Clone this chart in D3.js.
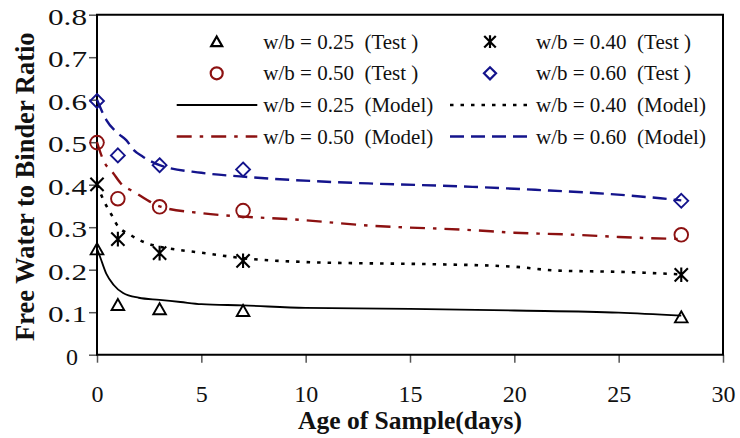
<!DOCTYPE html>
<html>
<head>
<meta charset="utf-8">
<script src="https://cdn.jsdelivr.net/npm/d3@7/dist/d3.min.js"></script>
<style>
  html, body { margin: 0; padding: 0; background: #fff; }
  svg { display: block; }
  text { font-family: "Liberation Serif", "Times New Roman", serif; }
</style>
</head>
<body>
<script>
// ---------- data ----------
const testDays = [0, 1, 3, 7, 28];
const test025 = [0.248, 0.117, 0.107, 0.103, 0.088];
const test040 = [0.401, 0.272, 0.239, 0.221, 0.188];
const test050 = [0.499, 0.367, 0.348, 0.339, 0.282];
const test060 = [0.597, 0.469, 0.446, 0.436, 0.362];

const model025Days = [0, 0.15, 0.45, 0.8, 1.25, 2, 3, 4, 5, 7, 10, 15, 20, 25, 28];
const model025 = [0.25, 0.23, 0.19, 0.164, 0.145, 0.134, 0.129, 0.124, 0.119, 0.116, 0.11, 0.108, 0.104, 0.099, 0.092];
const model040Days = [0, 0.35, 0.7, 0.95, 1.6, 2.4, 3, 4, 5, 7, 10, 13, 16, 20, 22, 25, 28];
const model040 = [0.40, 0.36, 0.329, 0.306, 0.282, 0.262, 0.254, 0.246, 0.24, 0.227, 0.218, 0.215, 0.213, 0.207, 0.198, 0.195, 0.189];
const model050Days = [0, 0.3, 0.78, 1.2, 1.75, 2.4, 3, 5, 7, 9.5, 13, 18, 20, 23, 25, 28];
const model050 = [0.5, 0.458, 0.427, 0.4, 0.384, 0.364, 0.349, 0.333, 0.325, 0.318, 0.304, 0.293, 0.287, 0.282, 0.277, 0.272];
const model060Days = [0, 0.45, 1, 1.4, 1.75, 2.2, 3, 5, 7, 11, 13, 18, 21, 24, 27, 28];
const model060 = [0.6, 0.552, 0.521, 0.505, 0.482, 0.466, 0.446, 0.428, 0.419, 0.407, 0.403, 0.395, 0.388, 0.38, 0.368, 0.363];

const xTicks = [0, 5, 10, 15, 20, 25, 30];
const yTicks = [0, 0.1, 0.2, 0.3, 0.4, 0.5, 0.6, 0.7, 0.8];
const yTickLabels = ["0", "0.1", "0.2", "0.3", "0.4", "0.5", "0.6", "0.7", "0.8"];

const testLabels = ["w/b = 0.25  (Test )", "w/b = 0.40  (Test )", "w/b = 0.50  (Test )", "w/b = 0.60  (Test )"];
const modelLabels = ["w/b = 0.25  (Model)", "w/b = 0.40  (Model)", "w/b = 0.50  (Model)", "w/b = 0.60  (Model)"];
const xTitle = "Age of Sample(days)";
const yTitle = "Free Water to Binder Ratio";

// ---------- styles ----------
const RED = "#8c1111", NAVY = "#14148c", BLACK = "#000";
const series = [
  { test: test025, mDays: model025Days, model: model025, color: BLACK, marker: "triangle", dash: null, width: 1.8 },
  { test: test040, mDays: model040Days, model: model040, color: BLACK, marker: "asterisk", dash: "3.5,7", width: 2.6 },
  { test: test050, mDays: model050Days, model: model050, color: RED, marker: "circle", dash: "15,8,3.5,8", width: 2.4 },
  { test: test060, mDays: model060Days, model: model060, color: NAVY, marker: "diamond", dash: "14,7", width: 2.4 }
];

const W = 740, H = 438;
const L = 97, R = 723, T = 14.7, B = 354.7;

const svg = d3.select("body").append("svg").attr("width", W).attr("height", H);

const x = d3.scaleLinear().domain([0, 30]).range([L, R]);
const y = d3.scaleLinear().domain([0, 0.8]).range([B, T]);

// markers
function markerPath(type, s) {
  const p = d3.path();
  if (type === "triangle") {
    p.moveTo(0, -s * 0.95); p.lineTo(s, s * 0.8); p.lineTo(-s, s * 0.8); p.closePath();
  } else if (type === "diamond") {
    p.moveTo(0, -s * 1.1); p.lineTo(s * 1.1, 0); p.lineTo(0, s * 1.1); p.lineTo(-s * 1.1, 0); p.closePath();
  } else if (type === "asterisk") {
    const a = s * 1.05;
    p.moveTo(-a, -a); p.lineTo(a, a);
    p.moveTo(a, -a); p.lineTo(-a, a);
    p.moveTo(0, -a * 1.1); p.lineTo(0, a * 1.1);
  } else if (type === "circle") {
    p.arc(0, 0, s, 0, 2 * Math.PI);
  }
  return p.toString();
}

// ---------- axes ----------
const xAxis = svg.append("g").attr("transform", `translate(0,${B})`)
  .call(d3.axisBottom(x).tickValues(xTicks).tickSize(8).tickFormat(d3.format("d")));
xAxis.select(".domain").remove();
xAxis.selectAll(".tick line").attr("stroke", "#555").attr("stroke-width", 1.5);
xAxis.selectAll(".tick text").attr("y", 47).attr("dy", null)
  .attr("font-size", 24).attr("fill", "#111")
  .style("font-family", "'Liberation Serif', 'Times New Roman', serif");

const yAxis = svg.append("g").attr("transform", `translate(${L},0)`)
  .call(d3.axisLeft(y).tickValues(yTicks).tickSize(8).tickFormat((d, i) => yTickLabels[i]));
yAxis.select(".domain").remove();
yAxis.selectAll(".tick line").attr("stroke", "#555").attr("stroke-width", 1.5);
yAxis.selectAll(".tick text")
  .attr("x", d => d === 0 ? -19 : -10).attr("dy", "0.4em")
  .attr("font-size", 24).attr("fill", "#111")
  .style("font-family", "'Liberation Serif', 'Times New Roman', serif")
  .each(function (d) { if (d !== 0) d3.select(this).attr("textLength", 39).attr("lengthAdjust", "spacingAndGlyphs"); });

// frame
svg.append("path")
  .attr("d", `M${L},${B}L${L},${T}L${R},${T}L${R},${B}Z`)
  .attr("fill", "none").attr("stroke", "#000").attr("stroke-width", 2);

// ---------- model lines ----------
const line = d3.line().x(d => x(d[0])).y(d => y(d[1])).curve(d3.curveMonotoneX);
series.forEach(s => {
  const pts = s.mDays.map((d, i) => [d, s.model[i]]);
  svg.append("path").datum(pts)
    .attr("d", line)
    .attr("fill", "none")
    .attr("stroke", s.color)
    .attr("stroke-width", s.width)
    .attr("stroke-dasharray", s.dash);
});

// ---------- test markers ----------
series.forEach(s => {
  svg.append("g").selectAll("path").data(testDays.map((d, i) => [d, s.test[i]]))
    .join("path")
    .attr("transform", d => `translate(${x(d[0])},${y(d[1])})`)
    .attr("d", markerPath(s.marker, s.marker === "circle" ? 6.8 : 6.3))
    .attr("fill", "none")
    .attr("stroke", s.color)
    .attr("stroke-width", s.marker === "asterisk" ? 2.1 : 1.9);
});

// ---------- legend ----------
const symX = [216.7, 490];
const lineX = [[176.7, 257.3], [450, 530]];
const textX = [263.3, 536];
const rowY = [41.7, 73.3, 105, 136.5];
const leg = svg.append("g");
series.forEach((s, i) => {
  const col = i % 2;
  const r1 = Math.floor(i / 2);
  const r2 = r1 + 2;
  leg.append("path")
    .attr("transform", `translate(${symX[col]},${rowY[r1]})`)
    .attr("d", markerPath(s.marker, s.marker === "circle" ? 6 : 5.5))
    .attr("fill", "none").attr("stroke", s.color).attr("stroke-width", 2.2);
  leg.append("text").attr("x", textX[col]).attr("y", rowY[r1] + 7)
    .attr("font-size", 21).attr("fill", "#111").style("white-space", "pre")
    .text(testLabels[i]);
  leg.append("line")
    .attr("x1", lineX[col][0]).attr("x2", lineX[col][1])
    .attr("y1", rowY[r2]).attr("y2", rowY[r2])
    .attr("stroke", s.color).attr("stroke-width", s.width)
    .attr("stroke-dasharray", s.dash);
  leg.append("text").attr("x", textX[col]).attr("y", rowY[r2] + 7)
    .attr("font-size", 21).attr("fill", "#111").style("white-space", "pre")
    .text(modelLabels[i]);
});

// ---------- titles ----------
svg.append("text").attr("x", (L + R) / 2).attr("y", 428.5)
  .attr("text-anchor", "middle").attr("font-size", 25.5).attr("font-weight", "bold").attr("fill", "#111")
  .text(xTitle);
svg.append("text")
  .attr("transform", `translate(34,${(T + B) / 2 + 2}) rotate(-90)`)
  .attr("text-anchor", "middle").attr("font-size", 26.5).attr("font-weight", "bold").attr("fill", "#111")
  .text(yTitle);
</script>
</body>
</html>
